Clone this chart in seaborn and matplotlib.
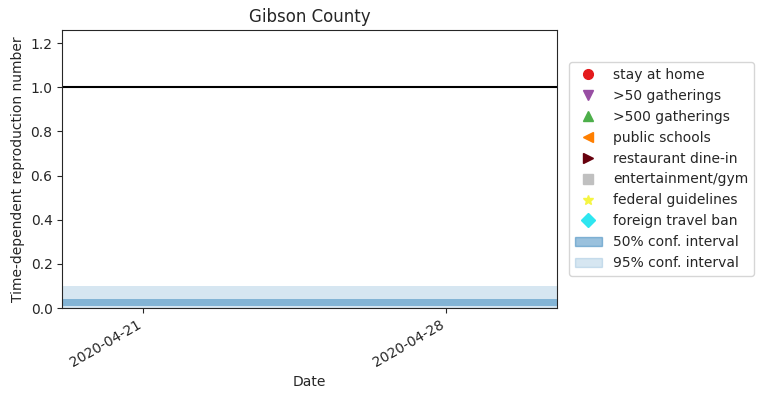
import pandas as pd
import matplotlib
matplotlib.use("Agg")
import matplotlib.pyplot as plt
import matplotlib.dates as mdates
import seaborn as sns
from matplotlib.lines import Line2D
from matplotlib.patches import Patch

dates = pd.date_range("2020-04-19", "2020-05-01", freq="D")
r_lower_50 = [0.007] * len(dates)
r_upper_50 = [0.041] * len(dates)
r_lower_95 = [0.0] * len(dates)
r_upper_95 = [0.1] * len(dates)

interventions = ["stay at home", ">50 gatherings", ">500 gatherings", "public schools",
                 "restaurant dine-in", "entertainment/gym", "federal guidelines",
                 "foreign travel ban"]
markers = ["o", "v", "^", "<", ">", "s", "*", "D"]
colors = ["#e41a1c", "#984ea3", "#4daf4a", "#ff7f00", "#67000d", "#c0c0c0", "#f5f542", "#2ee6f0"]

sns.set_style("ticks")
plt.rcParams['font.family'] = ['DejaVu Sans']
fig, ax = plt.subplots(figsize=(7.59, 4.0), dpi=100)

ax.fill_between(dates, r_lower_95, r_upper_95, color="#1f77b4", alpha=0.18, lw=0)
ax.fill_between(dates, r_lower_50, r_upper_50, color="#1f77b4", alpha=0.45, lw=0)
ax.axhline(1.0, color="black", lw=1.5)

ax.set_xlim(pd.Timestamp("2020-04-19 03:00"), pd.Timestamp("2020-04-30 13:30"))
ax.set_ylim(0, 1.26)
ax.xaxis.set_major_locator(mdates.DayLocator(bymonthday=[21, 28]))
ax.xaxis.set_major_formatter(mdates.DateFormatter("%Y-%m-%d"))
plt.setp(ax.get_xticklabels(), rotation=30, ha="right")
ax.set_xlabel("Date")
ax.set_ylabel("Time-dependent reproduction number")
ax.set_title("Gibson County")

handles = [Line2D([], [], ls="", marker=m, color=c, markersize=7, label=l)
           for l, m, c in zip(interventions, markers, colors)]
handles.append(Patch(facecolor="#1f77b4", alpha=0.45, edgecolor="#1f77b4", label="50% conf. interval"))
handles.append(Patch(facecolor="#1f77b4", alpha=0.18, edgecolor="#1f77b4", label="95% conf. interval"))
ax.legend(handles=handles, loc="center left", bbox_to_anchor=(1.01, 0.5))

fig.subplots_adjust(left=0.082, right=0.734, top=0.925, bottom=0.23)
fig.savefig("out.png")
